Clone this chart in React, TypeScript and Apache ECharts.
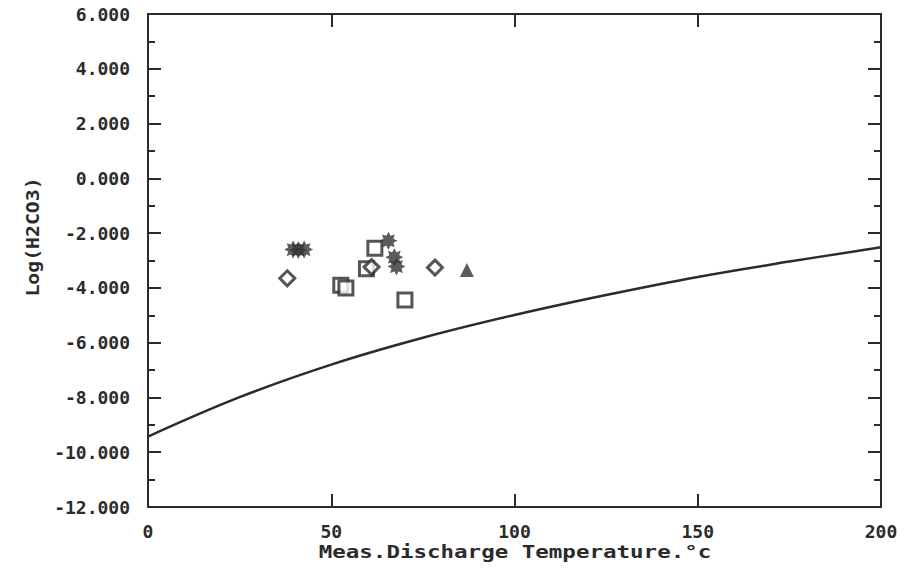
import React, { useEffect, useRef } from "react";
import * as echarts from "echarts";

// Curve: equilibrium line (temperature °C, log H2CO3)
const curveX = [0, 25, 50, 75, 100, 125, 150, 175, 200];
const curveY = [-9.43, -7.99, -6.8, -5.82, -4.99, -4.26, -3.6, -3.04, -2.52];

// Measured samples by symbol
const asteriskPts: [number, number][] = [
  [39.6, -2.6], [41.0, -2.62], [42.6, -2.6],
  [65.6, -2.28], [67.2, -2.88], [67.8, -3.22],
];
const squarePts: [number, number][] = [
  [52.6, -3.9], [54.0, -4.0], [61.9, -2.55], [59.6, -3.3], [70.1, -4.44],
];
const diamondPts: [number, number][] = [
  [38.0, -3.65], [61.0, -3.24], [78.3, -3.26],
];
const trianglePts: [number, number][] = [[87.0, -3.35]];

const xTicks = [0, 50, 100, 150, 200];
const yMin = -12;
const yMax = 6;
const yStep = 2;

const xName = "Meas.Discharge Temperature.°c";
const yName = "Log(H2CO3)";

const INK = "#2b2b2b";
const FONT = "DejaVu Sans Mono";
const ASTERISK =
  "path://M20 10 L15.5 12.3 L17.07 17.07 L12.3 15.5 L10 20 L7.7 15.5 L2.93 17.07 L4.5 12.3 L0 10 L4.5 7.7 L2.93 2.93 L7.7 4.5 L10 0 L12.3 4.5 L17.07 2.93 L15.5 7.7 Z";

export default function App() {
  const ref = useRef<HTMLDivElement>(null);
  useEffect(() => {
    if (!ref.current) return;
    const chart = echarts.init(ref.current, undefined, { renderer: "svg" });
    const axisCommon = {
      type: "value" as const,
      axisLine: { show: true, onZero: false, lineStyle: { color: INK, width: 2 } },
      axisTick: { show: true, inside: true, length: 13, lineStyle: { color: INK, width: 2 } },
      splitLine: { show: false },
    };
    const labelStyle = {
      color: INK,
      fontFamily: FONT,
      fontWeight: "bold" as const,
      fontSize: 18,
    };
    chart.setOption({
      animation: false,
      backgroundColor: "#ffffff",
      grid: { left: 148, right: 29, top: 14, bottom: 66, containLabel: false },
      xAxis: [
        {
          ...axisCommon,
          position: "bottom",
          min: xTicks[0],
          max: xTicks[xTicks.length - 1],
          interval: 50,
          axisLabel: { ...labelStyle, margin: 15 },
        },
        {
          ...axisCommon,
          position: "top",
          min: xTicks[0],
          max: xTicks[xTicks.length - 1],
          interval: 50,
          axisLabel: { show: false },
        },
      ],
      yAxis: [
        {
          ...axisCommon,
          position: "left",
          min: yMin,
          max: yMax,
          interval: yStep,
          minorTick: { show: true, splitNumber: 2, length: 7, lineStyle: { color: INK, width: 2 } },
          axisLabel: {
            ...labelStyle,
            margin: 18,
            formatter: (v: number) => v.toFixed(3),
          },
        },
        {
          ...axisCommon,
          position: "right",
          min: yMin,
          max: yMax,
          interval: yStep,
          minorTick: { show: true, splitNumber: 2, length: 7, lineStyle: { color: INK, width: 2 } },
          axisLabel: { show: false },
        },
      ],
      graphic: [
        {
          type: "text",
          x: 515,
          y: 552,
          scaleX: 1.25,
          style: {
            text: xName,
            fill: INK,
            font: `bold 18px "${FONT}"`,
            textAlign: "center",
            textVerticalAlign: "middle",
          },
        },
        {
          type: "text",
          x: 32,
          y: 237,
          rotation: Math.PI / 2,
          scaleX: 1.1,
          style: {
            text: yName,
            fill: INK,
            font: `bold 18px "${FONT}"`,
            textAlign: "center",
            textVerticalAlign: "middle",
          },
        },
      ],
      series: [
        {
          type: "line",
          data: curveX.map((x, i) => [x, curveY[i]]),
          smooth: 0.4,
          showSymbol: false,
          lineStyle: { color: INK, width: 2.5 },
          z: 2,
        },
        {
          type: "scatter",
          data: squarePts,
          symbol: "rect",
          symbolSize: 14,
          itemStyle: { color: "#ffffff", borderColor: INK, borderWidth: 3 },
          z: 3,
        },
        {
          type: "scatter",
          data: diamondPts,
          symbol: "diamond",
          symbolSize: 15,
          itemStyle: { color: "#ffffff", borderColor: INK, borderWidth: 3 },
          z: 4,
        },
        {
          type: "scatter",
          data: asteriskPts,
          symbol: ASTERISK,
          symbolSize: 18,
          itemStyle: { color: "#333333" },
          z: 5,
        },
        {
          type: "scatter",
          data: trianglePts,
          symbol: "triangle",
          symbolSize: 14,
          itemStyle: { color: "#333333" },
          z: 5,
        },
      ],
    });
    return () => chart.dispose();
  }, []);
  return (
    <div
      ref={ref}
      style={{ position: "fixed", left: 0, top: 0, width: 910, height: 573, background: "#fff" }}
    />
  );
}
